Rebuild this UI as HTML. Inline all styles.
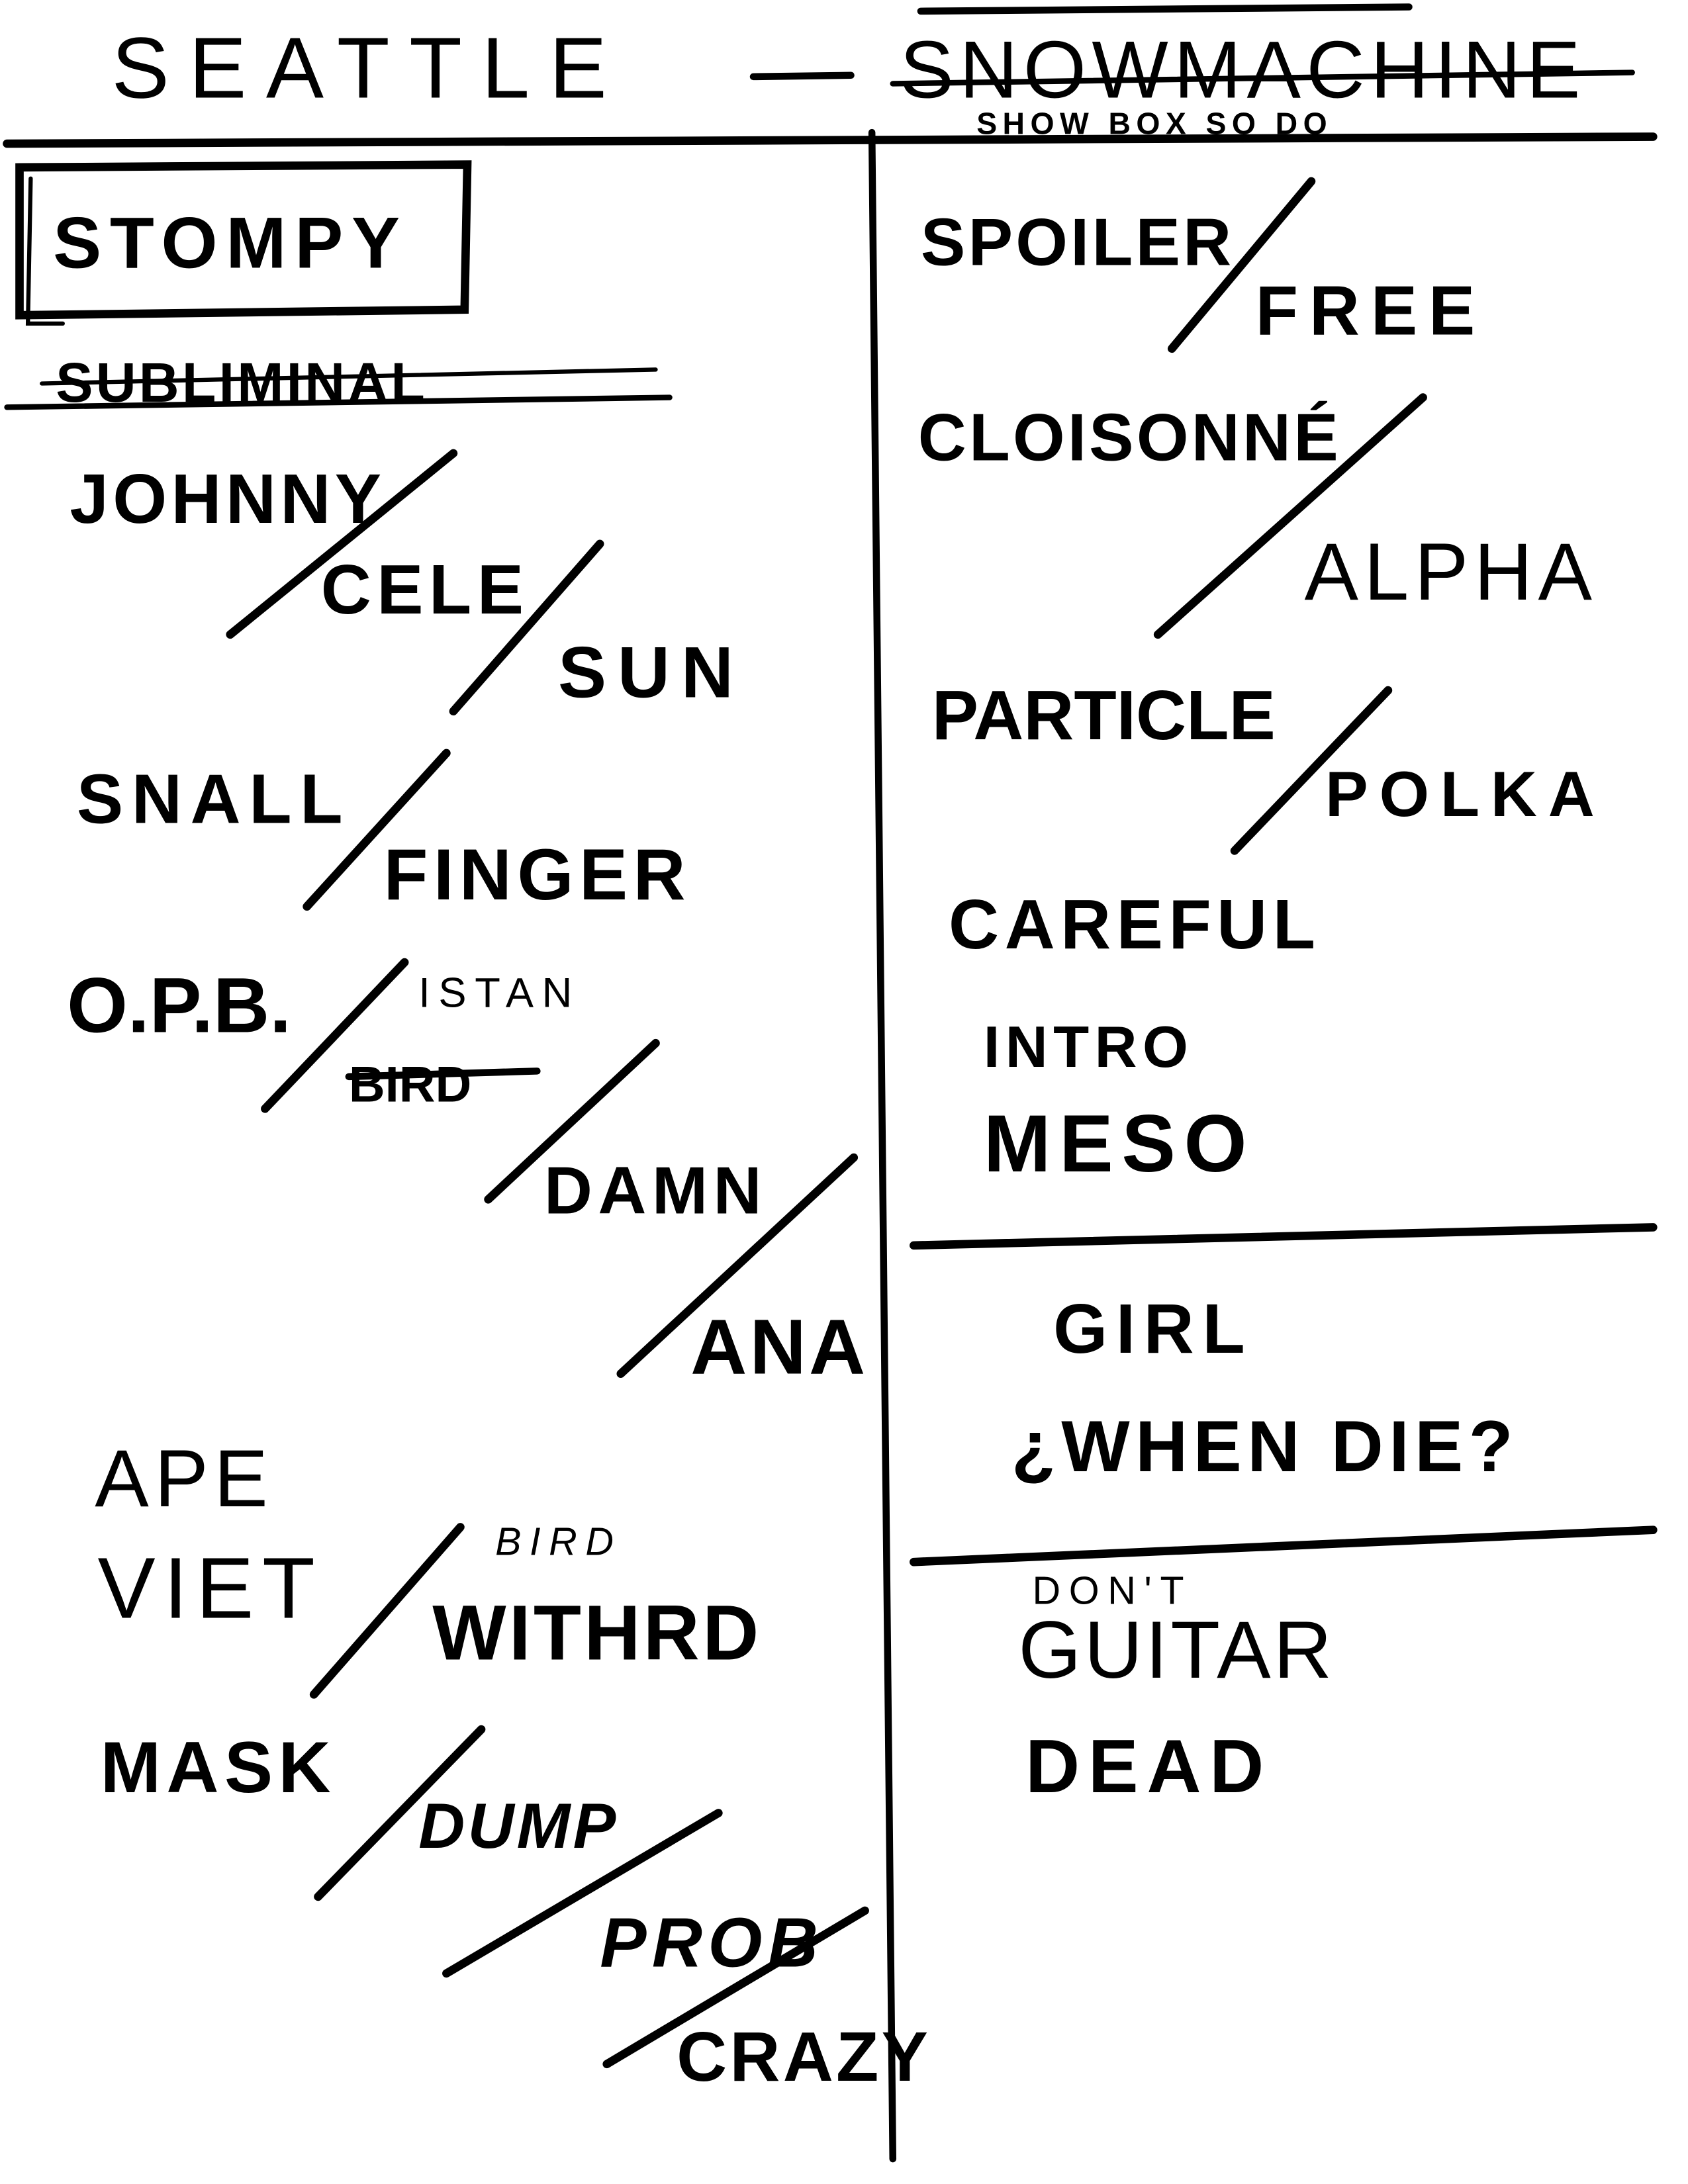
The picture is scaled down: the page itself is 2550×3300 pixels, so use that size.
<!DOCTYPE html>
<html><head><meta charset="utf-8"><style>
html,body{margin:0;padding:0;background:#fff;}
svg{display:block;}
text{font-family:"Liberation Sans",sans-serif;fill:#000;font-weight:bold;}
.t{font-weight:normal;}
</style></head><body>
<svg width="2550" height="3300" viewBox="0 0 1210 1566" preserveAspectRatio="none">
<g stroke="#000" stroke-linecap="round" fill="none">
<line x1="5" y1="103" x2="1185" y2="98" stroke-width="6"/>
<line x1="625" y1="95" x2="640" y2="1548" stroke-width="5"/>
<line x1="660" y1="8" x2="1010" y2="5" stroke-width="5"/>
<line x1="640" y1="60" x2="1170" y2="52" stroke-width="4"/>
<line x1="540" y1="55" x2="610" y2="54" stroke-width="5"/>
<path d="M14 120 L335 118 L333 222 L14 226 Z" stroke-width="6"/>
<path d="M22 128 L20 232 L45 232" stroke-width="3"/>
<line x1="5" y1="292" x2="480" y2="285" stroke-width="4"/>
<line x1="30" y1="275" x2="470" y2="265" stroke-width="3"/>
<g stroke-width="6">
<line x1="165" y1="455" x2="325" y2="325"/>
<line x1="325" y1="510" x2="430" y2="390"/>
<line x1="220" y1="650" x2="320" y2="540"/>
<line x1="190" y1="795" x2="290" y2="690"/>
<line x1="350" y1="860" x2="470" y2="748"/>
<line x1="445" y1="985" x2="612" y2="830"/>
<line x1="225" y1="1215" x2="330" y2="1095"/>
<line x1="228" y1="1360" x2="345" y2="1240"/>
<line x1="320" y1="1415" x2="515" y2="1300"/>
<line x1="435" y1="1480" x2="620" y2="1370"/>
<line x1="840" y1="250" x2="940" y2="130"/>
<line x1="830" y1="455" x2="1020" y2="285"/>
<line x1="885" y1="610" x2="995" y2="495"/>
</g>
<line x1="250" y1="772" x2="385" y2="768" stroke-width="5"/>
<line x1="655" y1="893" x2="1185" y2="880" stroke-width="6"/>
<line x1="655" y1="1120" x2="1185" y2="1097" stroke-width="6"/>
</g>
<g>
<text class="t" x="80" y="70" font-size="62" letter-spacing="14">SEATTLE</text>
<text class="t" x="645" y="70" font-size="58" letter-spacing="4">SNOWMACHINE</text>
<text x="700" y="96" font-size="22" letter-spacing="4">SHOW BOX   SO DO</text>
<text x="38" y="192" font-size="52" letter-spacing="6">STOMPY</text>
<text x="40" y="288" font-size="40" letter-spacing="2">SUBLIMINAL</text>
<text x="50" y="375" font-size="50" letter-spacing="3">JOHNNY</text>
<text x="230" y="440" font-size="50" letter-spacing="4">CELE</text>
<text x="400" y="500" font-size="52" letter-spacing="8">SUN</text>
<text x="55" y="590" font-size="50" letter-spacing="6">SNALL</text>
<text x="275" y="645" font-size="52" letter-spacing="4">FINGER</text>
<text x="48" y="740" font-size="56" letter-spacing="0">O.P.B.</text>
<text class="t" x="300" y="722" font-size="30" letter-spacing="6">ISTAN</text>
<text x="250" y="790" font-size="36">BIRD</text>
<text x="390" y="870" font-size="48" letter-spacing="4">DAMN</text>
<text x="495" y="985" font-size="56" letter-spacing="2">ANA</text>
<text class="t" x="68" y="1080" font-size="58" letter-spacing="4">APE</text>
<text class="t" x="70" y="1160" font-size="62" letter-spacing="6">VIET</text>
<text class="t" x="355" y="1115" font-size="28" letter-spacing="6" font-style="italic">BIRD</text>
<text x="310" y="1190" font-size="56" letter-spacing="2">WITHRD</text>
<text x="72" y="1285" font-size="52" letter-spacing="4">MASK</text>
<text x="300" y="1325" font-size="46" letter-spacing="2" font-style="italic">DUMP</text>
<text x="430" y="1410" font-size="50" letter-spacing="4" font-style="italic">PROB</text>
<text x="485" y="1492" font-size="50" letter-spacing="2">CRAZY</text>
<text x="660" y="190" font-size="48" letter-spacing="2">SPOILER</text>
<text x="900" y="240" font-size="50" letter-spacing="8">FREE</text>
<text x="658" y="330" font-size="48" letter-spacing="2">CLOISONNÉ</text>
<text class="t" x="935" y="430" font-size="58" letter-spacing="4">ALPHA</text>
<text x="668" y="530" font-size="50" letter-spacing="0">PARTICLE</text>
<text x="950" y="585" font-size="46" letter-spacing="8">POLKA</text>
<text x="680" y="680" font-size="50" letter-spacing="4">CAREFUL</text>
<text x="705" y="765" font-size="42" letter-spacing="4">INTRO</text>
<text x="705" y="840" font-size="58" letter-spacing="6">MESO</text>
<text x="755" y="970" font-size="50" letter-spacing="6">GIRL</text>
<text x="725" y="1055" font-size="52" letter-spacing="4">¿WHEN DIE?</text>
<text class="t" x="740" y="1150" font-size="28" letter-spacing="6">DON'T</text>
<text class="t" x="730" y="1203" font-size="58" letter-spacing="2">GUITAR</text>
<text x="735" y="1285" font-size="54" letter-spacing="6">DEAD</text>
</g>
</svg>
</body></html>
